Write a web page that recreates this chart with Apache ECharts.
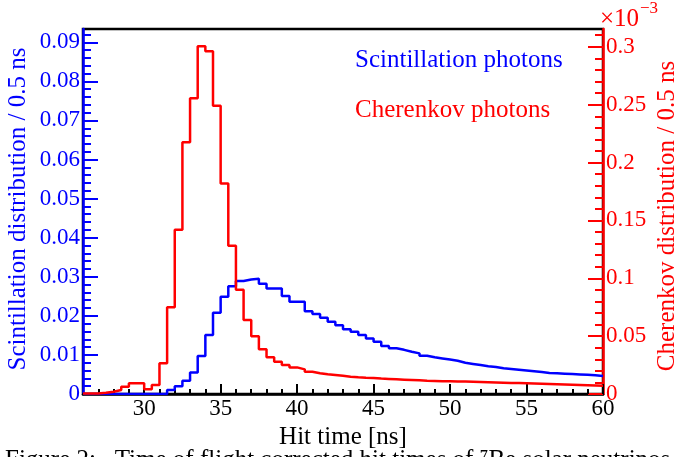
<!DOCTYPE html>
<html>
<head>
<meta charset="utf-8">
<script src="https://cdn.jsdelivr.net/npm/echarts@6/dist/echarts.min.js"></script>
<style>html,body{margin:0;padding:0;background:#fff;}#c{width:681px;height:457px;}</style>
</head>
<body>
<div id="c"></div>
<script>
// Histogram binning: bins of 0.5 ns starting at 26 ns
const binLow = 26;
const binWidth = 0.5;

// Scintillation photons (left axis), one value per 0.5 ns bin, 26 -> 60 ns
const scintValues = [
  0,0,0,0,0,0,0,0,0,0,0,
  0.0010,0.0020,0.0034,0.0055,0.0097,0.0151,0.0208,0.0249,0.0276,0.0289,0.0293,0.0295,
  0.0282,0.0270,0.0270,0.0251,0.0236,0.0236,0.0212,0.0205,0.0195,0.0185,
  0.0176,0.0166,0.0159,0.0151,0.0142,0.0134,0.0123,0.0117,0.0113,0.0108,
  0.0104,0.0098,0.0094,0.0091,0.0088,0.0085,0.0080,0.0077,0.0074,0.0071,
  0.0069,0.0066,0.0064,0.0062,0.0060,0.0058,0.0056,0.0054,0.0053,0.0052,
  0.0051,0.0050,0.0049,0.0048,0.0046
];

// Cherenkov photons (right axis, in units of 1e-3)
const cherenkovValues = [
  0.0005,0.0005,0.0010,0.0020,0.0035,0.0063,0.0092,0.0092,0.0040,0.0078,
  0.0265,0.0750,0.1420,0.2175,0.2555,0.3005,0.2962,0.2490,0.1820,0.1280,
  0.0900,0.0640,0.0500,0.0386,0.0317,0.0279,0.0250,0.0230,0.0213,0.0193,
  0.0179,0.0170,0.0164,0.0157,0.0150,0.0145,0.0141,0.0138,0.0133,0.0130,
  0.0127,0.0124,0.0121,0.0118,0.0115,0.0113,0.0110,0.0111,0.0109,0.0108,
  0.0106,0.0104,0.0102,0.0100,0.0098,0.0096,0.0094,0.0092,0.0090,0.0088,
  0.0086,0.0084,0.0082,0.0080,0.0078,0.0076,0.0074,0.0072
];

// Tick labels
const xMajorTicks = [30,35,40,45,50,55,60];
const leftMajorTicks = [0,0.01,0.02,0.03,0.04,0.05,0.06,0.07,0.08,0.09];
const rightMajorTicks = [0,0.05,0.1,0.15,0.2,0.25,0.3];

const xMin = 26, xMax = 60;
const leftMax = 0.0934, rightMax = 0.3154;

function range(a, b, step) {
  const out = [];
  for (let k = 0; a + k * step <= b + 1e-9; k++) out.push(+(a + k * step).toFixed(6));
  return out;
}
const xMinorTicks = range(27, 59, 1);
const leftMinorTicks = range(0.002, 0.092, 0.002);
const rightMinorTicks = range(0.01, 0.31, 0.01);

function histPoints(values) {
  const pts = values.map((v, k) => [binLow + k * binWidth, v]);
  pts.push([binLow + values.length * binWidth, values[values.length - 1]]);
  return pts;
}

const FONT = 'Liberation Serif';
const chart = echarts.init(document.getElementById('c'), null, {renderer: 'canvas'});

function yAx(pos, color, max, ticks, minor, isMajor) {
  return {
    type: 'value', position: pos, min: 0, max: max,
    axisLine: {show: isMajor, lineStyle: {color: color, width: 2.5}},
    axisTick: {show: true, inside: true, length: isMajor ? 15 : 8,
      customValues: isMajor ? ticks : minor,
      lineStyle: {color: color, width: 2}},
    axisLabel: {show: isMajor, customValues: ticks, color: color, fontFamily: FONT,
      fontSize: 23, margin: 3,
      formatter: v => String(+v.toFixed(4))},
    splitLine: {show: false}
  };
}

chart.setOption({
  animation: false,
  backgroundColor: '#fff',
  grid: {left: 83, right: 78, top: 29, bottom: 63, show: true,
    borderColor: '#000', borderWidth: 2.5, backgroundColor: 'transparent'},
  xAxis: [
    {type: 'value', position: 'bottom', min: xMin, max: xMax,
      axisLine: {onZero: false, lineStyle: {color: '#000', width: 2.5}},
      axisTick: {inside: true, length: 10, customValues: xMajorTicks, lineStyle: {color: '#000', width: 2}},
      axisLabel: {customValues: xMajorTicks, color: '#000', fontFamily: FONT, fontSize: 23, margin: 3},
      splitLine: {show: false}},
    {type: 'value', position: 'bottom', min: xMin, max: xMax,
      axisLine: {show: false, onZero: false},
      axisTick: {inside: true, length: 5, customValues: xMinorTicks, lineStyle: {color: '#000', width: 2}},
      axisLabel: {show: false}, splitLine: {show: false}}
  ],
  yAxis: [
    yAx('left', '#0000ff', leftMax, leftMajorTicks, leftMinorTicks, true),
    yAx('right', '#ff0000', rightMax, rightMajorTicks, rightMinorTicks, true),
    yAx('left', '#0000ff', leftMax, leftMajorTicks, leftMinorTicks, false),
    yAx('right', '#ff0000', rightMax, rightMajorTicks, rightMinorTicks, false)
  ],
  series: [
    {type: 'line', name: 'Scintillation photons', xAxisIndex: 0, yAxisIndex: 0,
      step: 'end', showSymbol: false, symbol: 'none', clip: true,
      lineStyle: {color: '#0000ff', width: 2.5}, data: histPoints(scintValues), z: 3},
    {type: 'line', name: 'Cherenkov photons', xAxisIndex: 0, yAxisIndex: 1,
      step: 'end', showSymbol: false, symbol: 'none', clip: true,
      lineStyle: {color: '#ff0000', width: 2.5}, data: histPoints(cherenkovValues), z: 4}
  ],
  graphic: [
    {type: 'text', x: 18, y: 209, rotation: Math.PI / 2,
      style: {text: 'Scintillation distribution / 0.5 ns', fill: '#0000ff', font: '25px "' + FONT + '"',
        textAlign: 'center', textVerticalAlign: 'middle'}},
    {type: 'text', x: 667, y: 216, rotation: Math.PI / 2,
      style: {text: 'Cherenkov distribution / 0.5 ns', fill: '#ff0000', font: '25px "' + FONT + '"',
        textAlign: 'center', textVerticalAlign: 'middle'}},
    {type: 'text', x: 343, y: 437,
      style: {text: 'Hit time [ns]', fill: '#000', font: '25px "' + FONT + '"',
        textAlign: 'center', textVerticalAlign: 'middle'}},
    {type: 'text', x: 355, y: 60,
      style: {text: 'Scintillation photons', fill: '#0000ff', font: '25px "' + FONT + '"',
        textAlign: 'left', textVerticalAlign: 'middle'}},
    {type: 'text', x: 355, y: 110,
      style: {text: 'Cherenkov photons', fill: '#ff0000', font: '25px "' + FONT + '"',
        textAlign: 'left', textVerticalAlign: 'middle'}},
    {type: 'text', x: 600, y: 19,
      style: {text: '\u00d710', fill: '#ff0000', font: '25px "' + FONT + '"',
        textAlign: 'left', textVerticalAlign: 'middle'}},
    {type: 'text', x: 640, y: 9,
      style: {text: '\u22123', fill: '#ff0000', font: '17px "' + FONT + '"',
        textAlign: 'left', textVerticalAlign: 'middle'}},
    {type: 'text', x: 5, y: 460,
      style: {text: 'Figure 2:   Time of flight corrected hit times of \u2077Be solar neutrinos', fill: '#000',
        font: '25px "' + FONT + '"', textAlign: 'left', textVerticalAlign: 'middle'}}
  ]
});
</script>
</body>
</html>
